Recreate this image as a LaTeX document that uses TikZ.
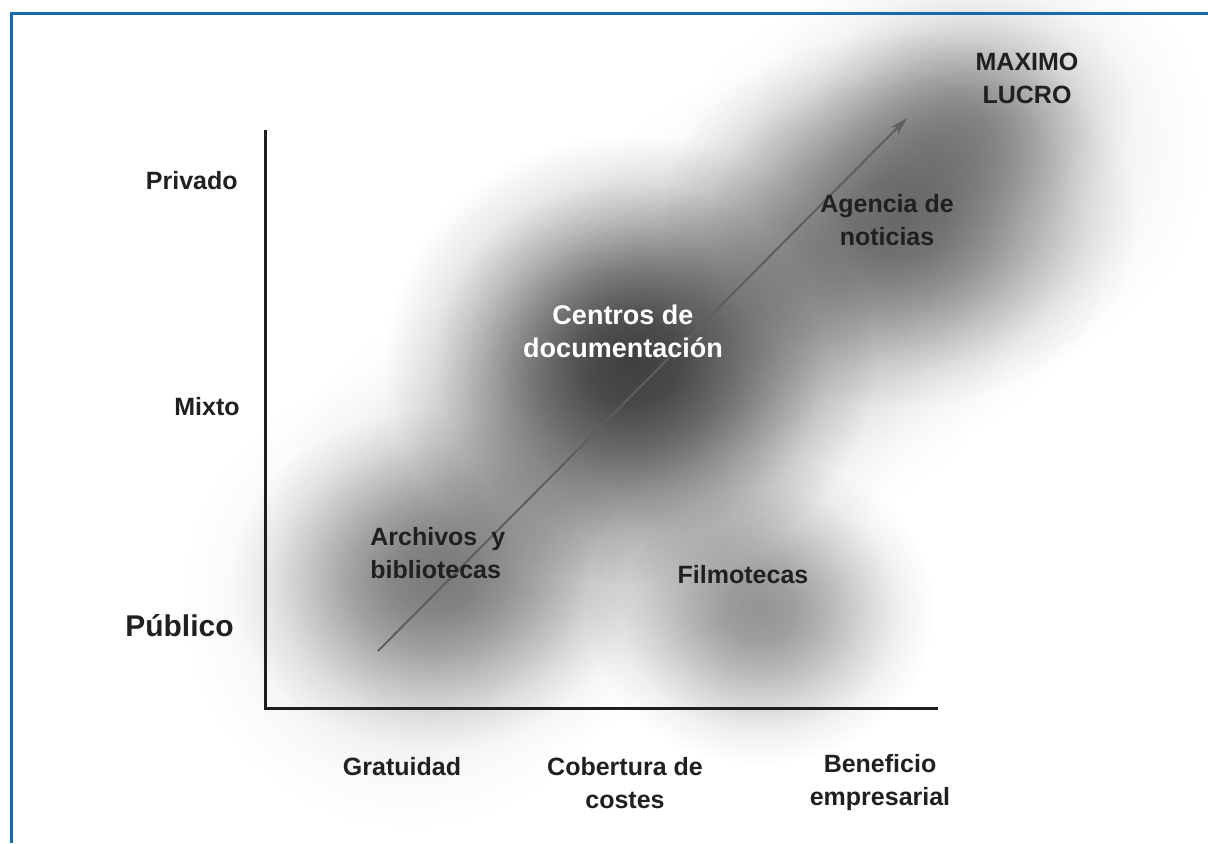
\documentclass[tikz,border=0pt]{standalone}
\usepackage{fontspec}
\setmainfont{Liberation Sans}
\usetikzlibrary{fadings,arrows.meta}
\pgfdeclareradialshading{blobshade}{\pgfpointorigin}{color(0bp)=(white); color(5bp)=(white!90!black); color(10bp)=(white!66!black); color(15bp)=(white!38!black); color(20bp)=(white!13!black); color(25bp)=(black); color(50bp)=(black)}
\pgfdeclarefading{blob}{\pgfuseshading{blobshade}}
\definecolor{frameblue}{HTML}{1A68B0}
\definecolor{axisc}{HTML}{1E1E1E}
\definecolor{arrowc}{HTML}{5E5E5E}
\definecolor{txt}{HTML}{202020}
\newcommand{\myblob}[5]{\fill[black, path fading=blob, fill opacity=#5] (#1,#2) ellipse [x radius=#3, y radius=#4];}
\begin{document}
\begin{tikzpicture}[x=0.5pt,y=-0.5pt,
  lbl/.style={font=\fontsize{12.5}{16.5}\selectfont\bfseries, text=txt, align=center, inner sep=0pt},
  wlbl/.style={font=\fontsize{13.5}{16.5}\selectfont\bfseries, text=white, align=center, inner sep=0pt},
  axisline/.style={draw=axisc, line width=1.5pt},
  trend/.style={draw=arrowc, line width=1pt, -{Stealth[length=9pt,width=5pt]}}]
\useasboundingbox (0,0) rectangle (1208,843);
\fill[white] (0,0) rectangle (1208,843);
% broad diagonal band of gray
\foreach \i in {0,...,6}{
  \myblob{410+95*\i}{600-76*\i}{230}{230}{0.14}
}
% blurred gray zones
\myblob{630}{360}{245}{225}{0.68}
\myblob{430}{580}{200}{170}{0.38}
\myblob{760}{610}{175}{155}{0.42}
\myblob{900}{220}{240}{190}{0.45}
\myblob{975}{110}{160}{120}{0.25}
% frame
\draw[frameblue, line width=1.5pt] (1208,13) -- (11,13) -- (11,843);
% axes
\coordinate (o) at (265,708);
\coordinate (ytop) at (265,130);
\coordinate (xend) at (938,708);
\draw[axisline] (ytop) -- (o) -- (xend);
% trend arrow
\coordinate (as) at (378,651);
\coordinate (ae) at (907,118);
\draw[trend] (as) -- (ae);
% y labels
\node[lbl, anchor=east] (priv) at (238,181) {Privado};
\node[lbl, anchor=east] (mix) at (240,407) {Mixto};
\node[lbl, anchor=east, font=\fontsize{15}{18}\selectfont\bfseries] (pub) at (234,626) {Público};
% x labels
\node[lbl] (grat) at (402,767) {Gratuidad};
\node[lbl] (cob) at (625,783) {Cobertura de\\costes};
\node[lbl] (ben) at (880,783) {Beneficio\\empresarial};
% zone labels
\node[lbl] (max) at (1027,78) {MAXIMO\\LUCRO};
\node[lbl] (age) at (887,220) {Agencia de\\noticias};
\node[wlbl] (cen) at (623,331) {Centros de\\documentación};
\node[lbl, align=left, anchor=west] (arc) at (370,553) {Archivos\ \ y\\bibliotecas};
\node[lbl] (fil) at (743,575) {Filmotecas};
\end{tikzpicture}
\end{document}
